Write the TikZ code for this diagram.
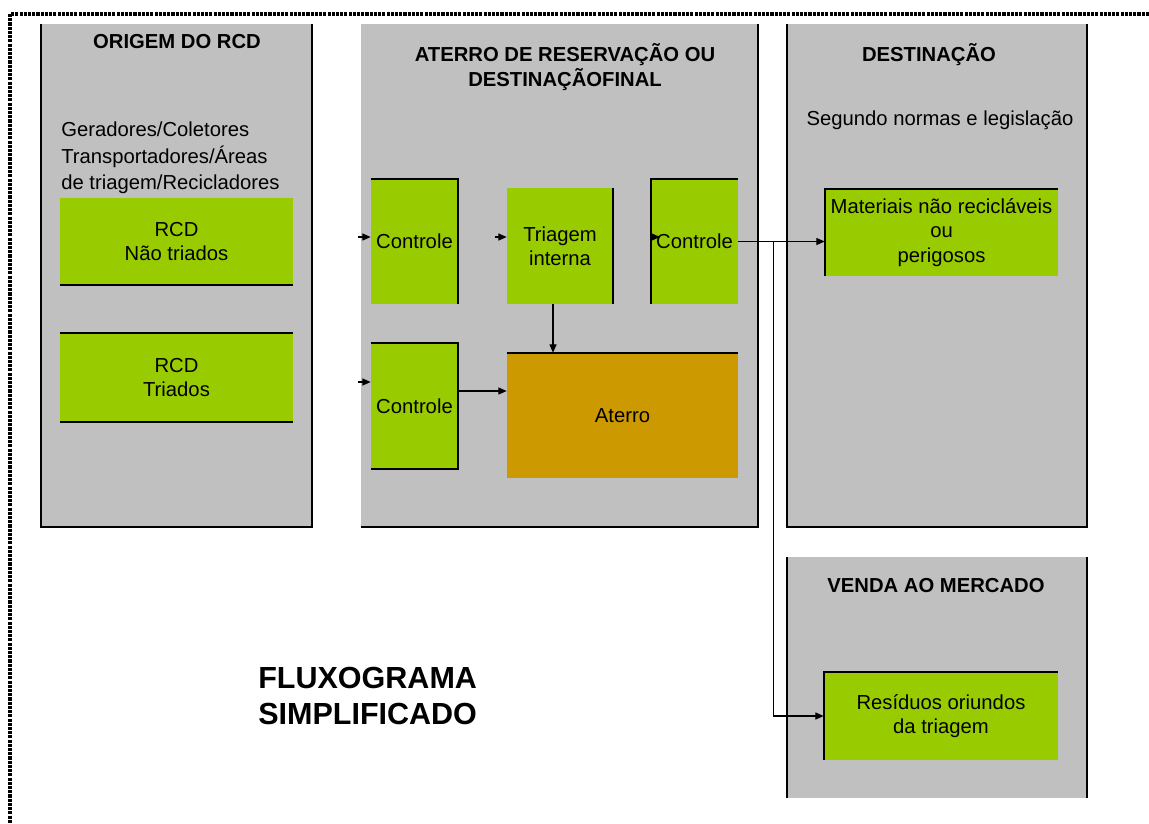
\documentclass[tikz,border=0pt]{standalone}
\usepackage{fontspec}
\setmainfont{Liberation Sans}
\usepackage{tikz}
\usetikzlibrary{arrows.meta}

\definecolor{panelgray}{HTML}{C0C0C0}
\definecolor{boxgreen}{HTML}{99CC00}
\definecolor{aterroorange}{HTML}{CC9900}

\begin{document}
\begin{tikzpicture}[
  x=0.025cm, y=-0.025cm,
  every node/.style={font=\fontsize{14.4}{17.3}\selectfont, inner sep=0pt},
  sized/.style 2 args={minimum width=#1*0.025cm, minimum height=#2*0.025cm},
  panel/.style={fill=panelgray},
  greenbox/.style={fill=boxgreen, align=center},
  aterrobox/.style={fill=aterroorange, align=center},
  heading/.style={font=\fontsize{14.4}{17.3}\selectfont\bfseries, align=center},
  rim/.style={line width=1.4pt},
  flow/.style={line width=0.9pt, -{Triangle[length=6pt, width=5pt]}}]
    \useasboundingbox (0,0) rectangle (1149,823);
    % Dotted outer frame
    \draw[line width=2.4pt, dash pattern=on 2.2pt off 0.8pt] (1149,14) -- (10,14) -- (10,823);
    % Gray columns
    \node[panel, sized={271}{503}] (origem) at (176.5,275.5) {};
    \node[panel, sized={397}{503}] (aterrozone) at (559.5,275.5) {};
    \node[panel, sized={300}{503}] (destinacao) at (937,275.5) {};
    \node[panel, sized={300}{241}] (venda) at (937,677.5) {};
    % Column titles and notes
    \node[heading] (origemtitle) at (177,42) {ORIGEM DO RCD};
    \node[heading] (aterrotitle) at (565,67) {ATERRO DE RESERVAÇÃO OU\\DESTINAÇÃOFINAL};
    \node[heading] (desttitle) at (929,55) {DESTINAÇÃO};
    \node[heading] (vendatitle) at (936,586) {VENDA AO MERCADO};
    \node[align=left, anchor=west, font=\fontsize{14.4}{19}\selectfont] (agentes) at (61,158)
      {Geradores/Coletores\\Transportadores/Áreas\\de triagem/Recicladores};
    \node (normas) at (940,120) {Segundo normas e legislação};
    % Boxes
    \node[greenbox, sized={233}{87}] (naotriados) at (176.5,241.5) {RCD\\Não triados};
    \node[greenbox, sized={233}{89}] (triados) at (176.5,377.5) {RCD\\Triados};
    \node[greenbox, sized={87}{125}] (ctrl1) at (414.5,241.5) {Controle};
    \node[greenbox, sized={106}{116}] (triagem) at (560,246) {Triagem\\interna};
    \node[greenbox, sized={87}{125}] (ctrl2) at (694.5,241.5) {Controle};
    \node[greenbox, sized={87}{126}] (ctrl3) at (414.5,406) {Controle};
    \node[aterrobox, sized={231}{125}] (aterro) at (622.5,415.5) {Aterro};
    \node[greenbox, sized={233}{87}] (materiais) at (941.5,232.5) {Materiais não recicláveis\\ou\\perigosos};
    \node[greenbox, sized={234}{88}] (residuos) at (941,716) {Resíduos oriundos\\da triagem};
    \node[anchor=west, align=left, font=\fontsize{21.7}{25}\selectfont\bfseries] (fluxo) at (258,696)
      {FLUXOGRAMA\\SIMPLIFICADO};
    % Dark rims on some sides
    \draw[rim] (origem.north west) -- (origem.south west) -- (origem.south east) -- (origem.north east);
    \draw[rim] (aterrozone.south west) -- (aterrozone.south east) -- (aterrozone.north east);
    \draw[rim] (destinacao.north west) -- (destinacao.south west) -- (destinacao.south east) -- (destinacao.north east);
    \draw[rim] (venda.north west) -- (venda.south west) (venda.north east) -- (venda.south east);
    \draw[rim] (naotriados.south west) -- (naotriados.south east);
    \draw[rim] (triados.north west) -- (triados.north east) (triados.south west) -- (triados.south east);
    \draw[rim] (ctrl1.north west) -- (ctrl1.north east) -- (ctrl1.south east);
    \draw[rim] (triagem.north east) -- (triagem.south east);
    \draw[rim] (ctrl2.south west) -- (ctrl2.north west) -- (ctrl2.north east);
    \draw[rim] (ctrl3.north west) -- (ctrl3.north east) -- (ctrl3.south east) -- (ctrl3.south west);
    \draw[rim] (aterro.north west) -- (aterro.north east);
    \draw[rim] (materiais.south west) -- (materiais.north west) -- (materiais.north east);
    \draw[rim] (residuos.south west) -- (residuos.north west) -- (residuos.north east);
    % Flows
    \coordinate (in1) at (358,237);
    \coordinate (in2) at (495,237);
    \coordinate (in3) at (650,237);
    \coordinate (in3tip) at (660,237);
    \coordinate (in4) at (358,382);
    \coordinate (split) at ([xshift=0.875cm]ctrl2.east);
    \draw[flow] (in1) -- (in1 -| ctrl1.west);
    \draw[flow] (in2) -- (in2 -| triagem.west);
    \draw[flow] (in3) -- (in3tip);
    \draw[flow] (in4) -- (in4 -| ctrl3.west);
    \draw[flow] ([xshift=-0.175cm]triagem.south) -- ([xshift=-0.175cm]triagem.south |- aterro.north);
    \draw[flow] ([yshift=0.375cm]ctrl3.east) -- ([yshift=0.375cm]ctrl3.east -| aterro.west);
    \draw[flow] (ctrl2.east) -- (ctrl2.east -| materiais.west);
    \draw[flow] (split) |- (residuos.west);
\end{tikzpicture}
\end{document}
